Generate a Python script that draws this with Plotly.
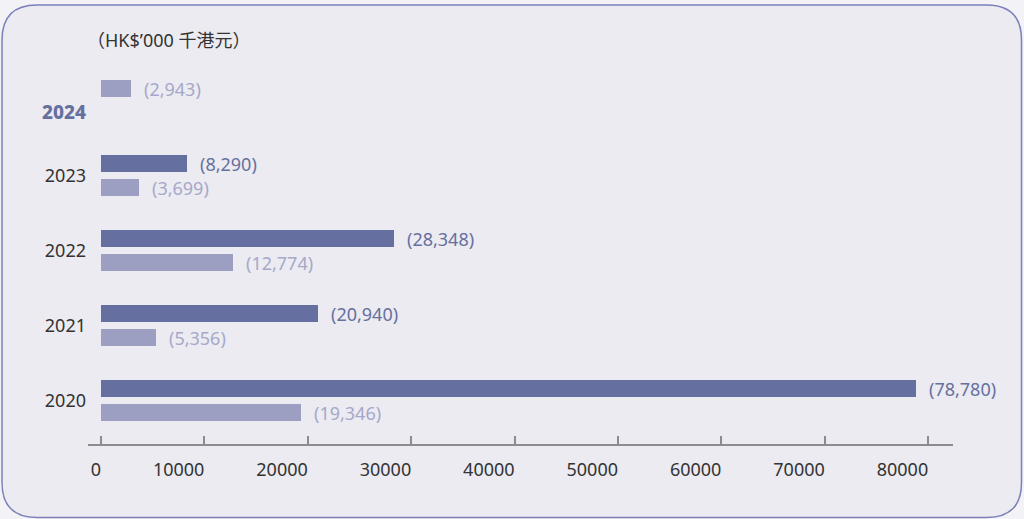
import plotly.graph_objects as go

# ---- data ----
years = ["2020", "2021", "2022", "2023", "2024"]
full_year = [78780, 20940, 28348, 8290, None]      # dark bars
half_year = [19346, 5356, 12774, 3699, 2943]       # light bars
x_ticks = [0, 10000, 20000, 30000, 40000, 50000, 60000, 70000, 80000]
unit_label = "（HK$’000 千港元）"

# ---- style ----
DARK = "#6670a0"
LIGHT = "#9c9ec2"
LIGHT_TXT = "#a6a8ca"
TXT = "#333333"
FONT = "Noto Sans, Open Sans, Noto Sans CJK TC, sans-serif"
FS = 18
WT = 400

W, H = 1024, 519
ML, MR, MT, MB = 88, 71, 60, 75
off = 0.16
bw = 0.227

dark_y, dark_x = [], []
light_y, light_x = [], []
for i, (f, h) in enumerate(zip(full_year, half_year)):
    if f is not None:
        dark_y.append(i + off); dark_x.append(f)
        light_y.append(i - off); light_x.append(h)
    else:
        light_y.append(i + off); light_x.append(h)

tick_pos = []
tick_txt = []
for i, y in enumerate(years):
    if full_year[i] is None:
        tick_pos.append(i - off)
        tick_txt.append(f"<span style='color:{DARK};font-weight:800;font-size:19px'>{y}</span>")
    else:
        tick_pos.append(i)
        tick_txt.append(y)

fig = go.Figure()
fig.add_trace(go.Bar(x=dark_x, y=dark_y, orientation="h", width=bw,
                     marker=dict(color=DARK, line=dict(width=0)), showlegend=False,
                     hoverinfo="x"))
fig.add_trace(go.Bar(x=light_x, y=light_y, orientation="h", width=bw,
                     marker=dict(color=LIGHT, line=dict(width=0)), showlegend=False,
                     hoverinfo="x"))

ann = []
for x, y in zip(dark_x, dark_y):
    ann.append(dict(x=x, y=y, xref="x", yref="y", text=f"({x:,})", showarrow=False,
                    xanchor="left", yanchor="middle", xshift=11,
                    font=dict(family=FONT, size=FS, color=DARK, weight=WT)))
for x, y in zip(light_x, light_y):
    ann.append(dict(x=x, y=y, xref="x", yref="y", text=f"({x:,})", showarrow=False,
                    xanchor="left", yanchor="middle", xshift=11,
                    font=dict(family=FONT, size=FS, color=LIGHT_TXT, weight=WT)))

pw = W - ML - MR
ph = H - MT - MB
def px(xp):
    return (xp - ML) / pw
def py(yp):
    return (H - MB - yp) / ph

ann.append(dict(x=px(85), y=py(40), xref="paper", yref="paper", text=unit_label,
                showarrow=False, xanchor="left", yanchor="middle",
                font=dict(family=FONT, size=FS, color=TXT, weight=WT)))

# rounded panel
L, R, T, B, r = 2, 1021.5, 5, 517.5, 35
def P(a, b):
    return f"{px(a):.5f},{py(b):.5f}"
path = (f"M {P(L + r, T)} L {P(R - r, T)} Q {P(R, T)} {P(R, T + r)} "
        f"L {P(R, B - r)} Q {P(R, B)} {P(R - r, B)} "
        f"L {P(L + r, B)} Q {P(L, B)} {P(L, B - r)} "
        f"L {P(L, T + r)} Q {P(L, T)} {P(L + r, T)} Z")
shapes = [dict(type="path", path=path, xref="paper", yref="paper",
               fillcolor="#ebebf1", line=dict(color="#7b80b8", width=1.5), layer="below")]

xmin = -1257
xmax = 82400
fig.update_layout(
    width=W, height=H,
    margin=dict(l=ML, r=MR, t=MT, b=MB, pad=0),
    paper_bgcolor="#f3f3f7",
    plot_bgcolor="rgba(0,0,0,0)",
    font=dict(family=FONT, size=FS, color=TXT, weight=WT),
    bargap=0,
    annotations=ann,
    shapes=shapes,
    xaxis=dict(range=[xmin, xmax], tickvals=x_ticks, ticktext=[str(t) for t in x_ticks],
               showgrid=False, zeroline=False, showline=True, linecolor="#8c8c8c",
               linewidth=2, ticks="inside", ticklen=8, tickwidth=2, tickcolor="#8c8c8c",
               ticklabelposition="outside left", ticklabelstandoff=8, ticklabelshift=2,
               tickfont=dict(family=FONT, size=FS, color=TXT, weight=WT)),
    yaxis=dict(range=[-0.58, 4.54], tickvals=tick_pos, ticktext=tick_txt,
               showgrid=False, zeroline=False, showline=False, ticks="",
               ticklabelstandoff=1,
               tickfont=dict(family=FONT, size=FS, color=TXT, weight=WT)),
)

fig.write_html("out.html", config={"displayModeBar": False},
               post_script="document.body.style.margin='0';document.body.style.overflow='hidden';")
